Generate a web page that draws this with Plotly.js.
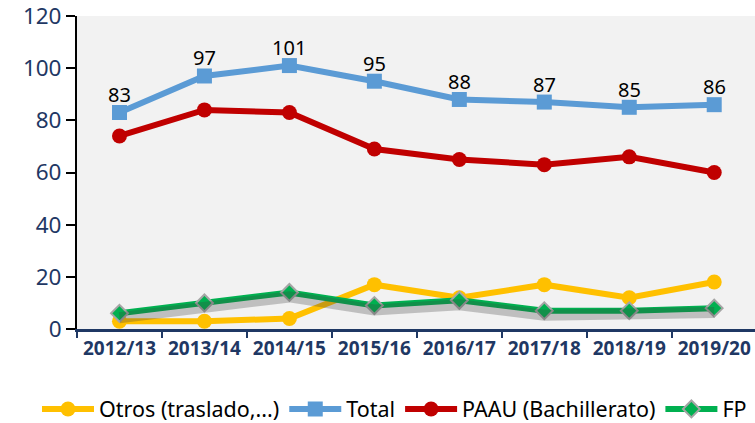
<!DOCTYPE html>
<html>
<head>
<meta charset="utf-8">
<script src="https://cdn.plot.ly/plotly-3.0.1.min.js"></script>
<style>html,body{margin:0;padding:0;background:#fff;}#chart{width:755px;height:423px;}</style>
</head>
<body>
<div id="chart"></div>
<script>
const categories = ["2012/13","2013/14","2014/15","2015/16","2016/17","2017/18","2018/19","2019/20"];
const otros = [3, 3, 4, 17, 12, 17, 12, 18];
const total = [83, 97, 101, 95, 88, 87, 85, 86];
const paau = [74, 84, 83, 69, 65, 63, 66, 60];
const fp = [6, 10, 14, 9, 11, 7, 7, 8];
const yTicks = [0, 20, 40, 60, 80, 100, 120];

const FONT = "Noto Sans, Open Sans, sans-serif";
const NAVY = "#1F3864";

const traces = [
  {x: categories, y: otros, name: "Otros (traslado,...)", mode: "lines+markers",
   line: {color: "#FFC000", width: 6}, marker: {symbol: "circle", size: 15, color: "#FFC000"}},
  {x: categories, y: total, name: "Total", mode: "lines+markers",
   line: {color: "#5B9BD5", width: 6}, marker: {symbol: "square", size: 15, color: "#5B9BD5"}},
  {x: categories, y: paau, name: "PAAU (Bachillerato)", mode: "lines+markers",
   line: {color: "#C00000", width: 6}, marker: {symbol: "circle", size: 15, color: "#C00000"}},
  // soft shadow under FP line (same data, drawn on a slightly shifted overlay axis)
  {x: categories, y: fp, yaxis: "y2", mode: "lines", showlegend: false, hoverinfo: "skip",
   line: {color: "rgba(60,60,60,0.28)", width: 11}},
  {x: categories, y: fp, name: "FP", mode: "lines+markers",
   line: {color: "#00B050", width: 6},
   marker: {symbol: "diamond", size: 13, color: "#00B050", line: {color: "#A5A5A5", width: 2}}}
];

// data labels for the Total series, placed through the axes
const totalLabels = categories.map((c, i) => ({
  x: c, y: total[i], xref: "x", yref: "y", text: String(total[i]),
  showarrow: false, yshift: 18, yanchor: "middle",
  font: {family: FONT, size: 20, color: "#000"}
}));

const layout = {
  width: 755, height: 423,
  margin: {l: 77, r: 0, t: 16, b: 94, autoexpand: false},
  paper_bgcolor: "#ffffff",
  plot_bgcolor: "#F2F2F2",
  showlegend: true,
  font: {family: FONT},
  annotations: totalLabels,
  xaxis: {
    type: "category", range: [-0.5, 7.48],
    tickson: "boundaries", ticks: "outside", ticklen: 6, tickwidth: 2, tickcolor: NAVY,
    showline: true, linecolor: NAVY, linewidth: 3,
    showgrid: false, zeroline: false,
    tickfont: {family: FONT, size: 19, color: NAVY, weight: "bold"}
  },
  yaxis: {
    range: [0, 120], tickmode: "array", tickvals: yTicks, ticktext: yTicks.map(String),
    ticklabeloverflow: "allow",
    ticks: "outside", ticklen: 9, tickwidth: 2, tickcolor: "#000",
    showline: true, linecolor: "#000", linewidth: 2,
    showgrid: false, zeroline: false,
    tickfont: {family: FONT, size: 22.5, color: NAVY}
  },
  yaxis2: {
    overlaying: "y", range: [1.7, 121.7], visible: false, showgrid: false, zeroline: false
  },
  legend: {
    orientation: "h", x: -0.059, xanchor: "left", y: -0.2556, yanchor: "middle",
    font: {family: FONT, size: 21.5, color: "#000"},
    bgcolor: "rgba(0,0,0,0)", tracegroupgap: 0, itemwidth: 52
  }
};

Plotly.newPlot("chart", traces, layout, {displayModeBar: false, staticPlot: true});
</script>
</body>
</html>
